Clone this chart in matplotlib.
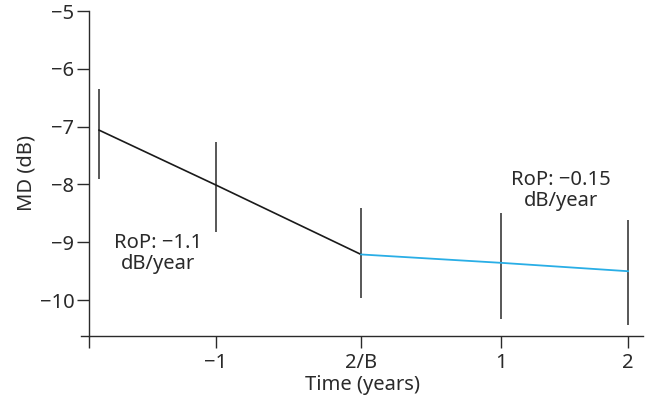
import matplotlib.pyplot as plt
import numpy as np

plt.rcParams['font.family'] = ['Noto Sans', 'DejaVu Sans']

# x positions of the visits (the axis is not evenly spaced in the original)
x_pos = [-1.871, -1.036, 0.0, 1.0, 1.907]
tick_pos = [-1.943, -1.036, 0.0, 1.0, 1.907]
tick_labels = ["", "\u22121", "2/B", "1", "2"]

md_mean = [-7.06, -8.01, -9.21, -9.355, -9.50]
md_upper = [-6.355, -7.27, -8.41, -8.50, -8.62]
md_lower = [-7.91, -8.82, -9.97, -10.32, -10.43]

fig = plt.figure(figsize=(6.49, 4.12), dpi=100)
ax = fig.add_axes([0.1248, 0.1845, 0.866, 0.7888])

x = np.array(x_pos)
y = np.array(md_mean)
yerr = np.array([y - np.array(md_lower), np.array(md_upper) - y])

ax.errorbar(x, y, yerr=yerr, fmt="none", ecolor="#2a2a2a", elinewidth=1.1, capsize=0, zorder=2)
ax.plot(x[:3], y[:3], color="#1a1a1a", lw=1.2, zorder=3)
ax.plot(x[2:], y[2:], color="#29aee6", lw=1.3, zorder=3)

ax.set_xlim(-2.0, 2.014)
ax.set_ylim(-10.62, -5)
ax.set_yticks([-5, -6, -7, -8, -9, -10])
ax.set_yticklabels(["\u22125", "\u22126", "\u22127", "\u22128", "\u22129", "\u221210"])
ax.set_xticks(tick_pos)
ax.set_xticklabels(tick_labels)

ax.spines["top"].set_visible(False)
ax.spines["right"].set_visible(False)
ax.spines["left"].set_position(("data", tick_pos[0]))
for s in ["left", "bottom"]:
    ax.spines[s].set_color("#2a2a2a")
    ax.spines[s].set_linewidth(1.0)
ax.tick_params(axis="both", direction="out", length=8.5, width=1.0, color="#2a2a2a",
               labelsize=14.5, labelcolor="#2a2a2a")
ax.tick_params(axis="x", pad=4)
ax.tick_params(axis="y", pad=2)

ax.set_ylabel("MD (dB)", fontsize=14.5, color="#2a2a2a", labelpad=2)
ax.set_xlabel("Time (years)", fontsize=14.5, color="#2a2a2a", labelpad=1)

ax.text(-1.45, -9.19, "RoP: \u22121.1\ndB/year", ha="center", va="center",
        fontsize=14.5, color="#2a2a2a", linespacing=1.05)
ax.text(1.43, -8.11, "RoP: \u22120.15\ndB/year", ha="center", va="center",
        fontsize=14.5, color="#2a2a2a", linespacing=1.05)

fig.savefig("out.png", dpi=100)
